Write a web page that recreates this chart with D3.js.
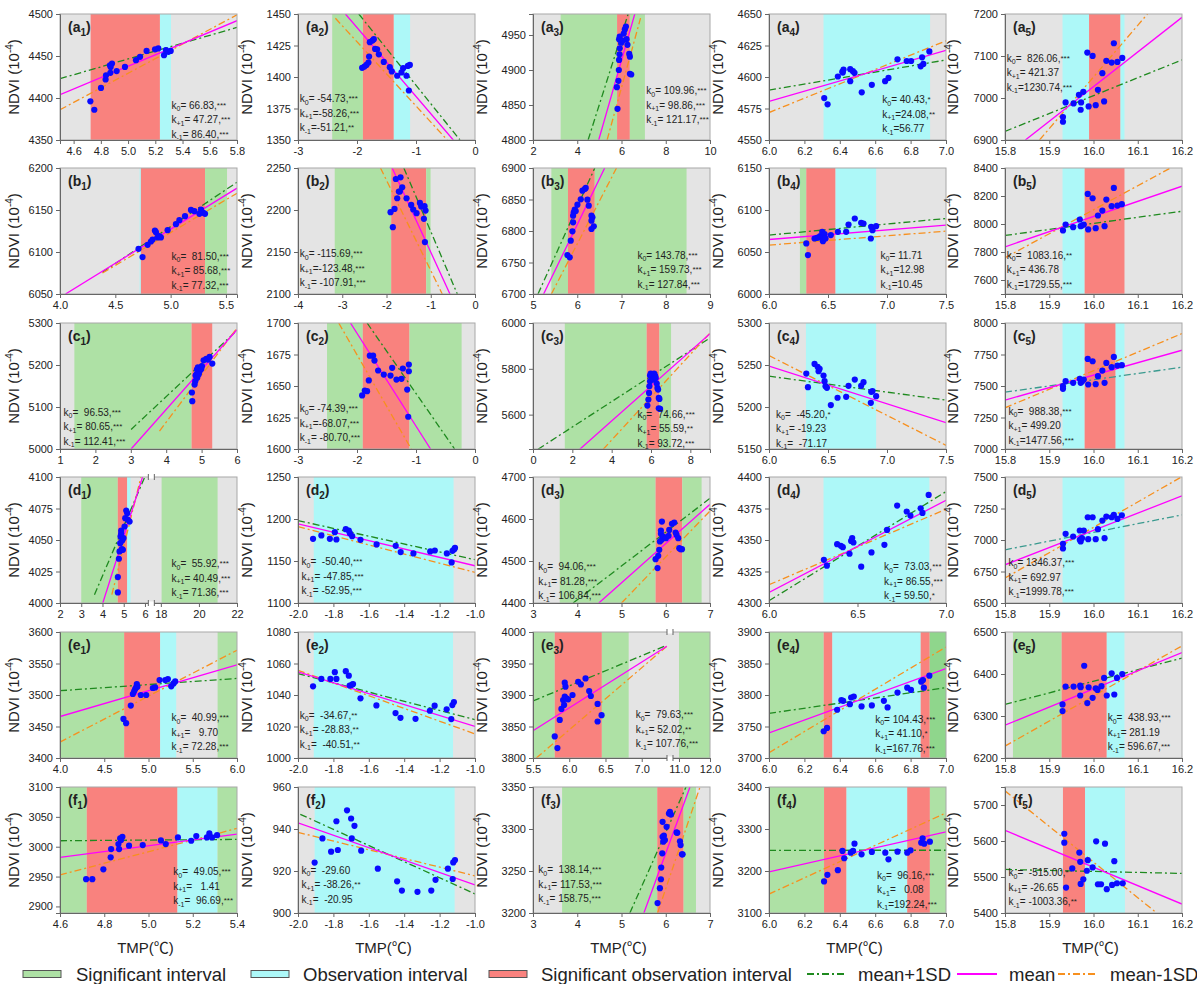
<!DOCTYPE html>
<html>
<head>
<meta charset="utf-8">
<script src="https://cdn.jsdelivr.net/npm/d3@7"></script>
<style>
body { margin: 0; background: #fff; }
text { font-family: "Liberation Sans", Arial, sans-serif; }
</style>
</head>
<body>
<svg id="chart" width="1197" height="984"></svg>
<script>
// panel order: rows a..f, columns 1..5
const panelIds = ['a1','a2','a3','a4','a5','b1','b2','b3','b4','b5','c1','c2','c3','c4','c5',
  'd1','d2','d3','d4','d5','e1','e2','e3','e4','e5','f1','f2','f3','f4','f5']

// axis domains (d1 and e3 have a broken x axis)
const xDomains = [
  [4.5,5.8],[-3,0],[2,10],[6,7],[15.8,16.2],
  [4,5.6],[-4,0],[5,9],[6,7.5],[15.8,16.2],
  [1,6],[-3,0],[0,9],[6,7.5],[15.8,16.2],
  [2,6.3,17.5,22],[-2,-1],[3,7],[6,7],[15.8,16.2],
  [4,6],[-2,-1],[5.5,7.39,10.71,12],[6,7],[15.8,16.2],
  [4.6,5.4],[-2,-1],[3,7],[6,7],[15.8,16.2]
]
const yDomains = [
  [4350,4500],[1350,1450],[4800,4980],[4550,4650],[6900,7200],
  [6050,6200],[2100,2250],[6700,6900],[6000,6150],[7500,8400],
  [5000,5300],[1600,1700],[5450,6000],[5150,5300],[7000,8000],
  [4000,4100],[1100,1250],[4400,4700],[4300,4400],[6500,7500],
  [3400,3600],[1000,1080],[3800,4000],[3700,3900],[6200,6500],
  [2889,3100],[900,960],[3200,3350],[3100,3400],[5400,5750]
]
const xTicks = [
  [4.6,4.8,5.0,5.2,5.4,5.6,5.8],[-3,-2,-1,0],[2,4,6,8,10],[6.0,6.2,6.4,6.6,6.8,7.0],[15.8,15.9,16.0,16.1,16.2],
  [4.0,4.5,5.0,5.5],[-4,-3,-2,-1,0],[5,6,7,8,9],[6.0,6.5,7.0,7.5],[15.8,15.9,16.0,16.1,16.2],
  [1,2,3,4,5,6],[-3,-2,-1,0],[0,2,4,6,8],[6.0,6.5,7.0,7.5],[15.8,15.9,16.0,16.1,16.2],
  [2,3,4,5,6,18,20,22],[-2.0,-1.8,-1.6,-1.4,-1.2,-1.0],[3,4,5,6,7],[6.0,6.5,7.0],[15.8,15.9,16.0,16.1,16.2],
  [4.0,4.5,5.0,5.5,6.0],[-2.0,-1.8,-1.6,-1.4,-1.2,-1.0],[5.5,6.0,6.5,7.0,11.0,12.0],[6.0,6.2,6.4,6.6,6.8,7.0],[15.8,15.9,16.0,16.1,16.2],
  [4.6,4.8,5.0,5.2,5.4],[-2.0,-1.8,-1.6,-1.4,-1.2,-1.0],[3,4,5,6,7],[6.0,6.2,6.4,6.6,6.8,7.0],[15.8,15.9,16.0,16.1,16.2]
]
const yTicks = [
  [4350,4400,4450,4500],[1350,1375,1400,1425,1450],[4800,4850,4900,4950],[4550,4575,4600,4625,4650],[6900,7000,7100,7200],
  [6050,6100,6150,6200],[2100,2150,2200,2250],[6700,6750,6800,6850,6900],[6000,6050,6100,6150],[7600,7800,8000,8200,8400],
  [5000,5100,5200,5300],[1600,1625,1650,1675,1700],[5600,5800,6000],[5150,5200,5250,5300],[7000,7250,7500,7750,8000],
  [4000,4025,4050,4075,4100],[1100,1150,1200,1250],[4400,4500,4600,4700],[4300,4325,4350,4375,4400],[6500,6750,7000,7250,7500],
  [3400,3450,3500,3550,3600],[1000,1020,1040,1060,1080],[3800,3850,3900,3950,4000],[3700,3750,3800,3850,3900],[6200,6300,6400,6500],
  [2900,2950,3000,3050,3100],[900,920,940,960],[3200,3250,3300,3350],[3100,3200,3300,3400],[5400,5500,5600,5700]
]

// shaded intervals: g = significant, c = observation, r = significant observation
const bands = [
  [[4.725,5.234,'r'],[5.234,5.315,'c']],
  [[-2.42,-1.90,'g'],[-1.90,-1.376,'r'],[-1.376,-1.10,'c']],
  [[3.25,5.80,'g'],[5.80,6.377,'r'],[6.377,7.057,'g']],
  [[6.308,6.91,'c']],
  [[15.93,15.99,'c'],[15.99,16.061,'r'],[16.061,16.07,'c']],
  [[4.72,4.731,'c'],[4.731,5.311,'r'],[5.311,5.51,'g']],
  [[-3.17,-1.894,'g'],[-1.894,-1.102,'r'],[-1.102,-1.004,'g']],
  [[5.415,5.79,'g'],[5.79,6.396,'r'],[6.396,8.47,'g']],
  [[6.262,6.316,'g'],[6.316,6.564,'r'],[6.564,6.908,'c']],
  [[15.93,15.98,'c'],[15.98,16.07,'r']],
  [[1.406,4.717,'g'],[4.717,5.30,'r']],
  [[-2.508,-1.902,'g'],[-1.902,-1.11,'r'],[-1.11,-0.227,'g']],
  [[1.616,5.78,'g'],[5.78,6.43,'r'],[6.43,7.02,'g']],
  [[6.313,6.908,'c']],
  [[15.93,15.98,'c'],[15.98,16.05,'r'],[16.05,16.07,'c']],
  [[3.0,4.72,'g'],[4.72,5.165,'r'],[5.165,5.32,'c'],[18.04,20.98,'g']],
  [[-1.911,-1.121,'c']],
  [[3.604,5.77,'g'],[5.77,6.374,'r'],[6.374,6.81,'g']],
  [[6.308,6.906,'c']],
  [[15.93,16.07,'c']],
  [[4.0,4.725,'g'],[4.725,5.132,'r'],[5.132,5.313,'c'],[5.781,6.0,'g']],
  [[-1.911,-1.124,'c']],
  [[5.5,5.80,'g'],[5.80,6.45,'r'],[6.45,6.82,'g'],[11.0,12.0,'g']],
  [[6.0,6.309,'g'],[6.309,6.358,'r'],[6.358,6.857,'c'],[6.857,6.908,'r'],[6.908,7.0,'G']],
  [[15.818,15.928,'g'],[15.928,16.03,'r'],[16.03,16.07,'c']],
  [[4.6,4.721,'g'],[4.721,5.131,'r'],[5.131,5.312,'c'],[5.312,5.4,'g']],
  [[-1.906,-1.115,'c']],
  [[3.657,5.808,'g'],[5.808,6.404,'r'],[6.404,6.683,'g']],
  [[6.0,6.311,'g'],[6.311,6.438,'r'],[6.438,6.781,'c'],[6.781,6.909,'r'],[6.909,7.0,'g']],
  [[15.931,15.981,'r'],[15.981,16.071,'c']]
]

// fitted lines [x1, y1, x2, y2]
const linePlus = [
  [4.5,4423,5.8,4484],[-1.97,1450,-0.255,1350],[4.49,4800,6.30,4980],[6,4589.6,7,4613.5],[15.8,6920.5,16.2,7090.7],
  [4.384,6076,5.6,6183],[-1.608,2250,-0.40,2100],[5.113,6700,6.396,6900],[6,6070.1,7.5,6089.9],[15.8,7918,16.2,8091],
  [3.009,5046.6,6,5282.6],[-1.829,1700,-0.346,1600],[0.255,5449,9,5934.6],[6,5236.7,7.5,5208.2],[15.8,7451,16.2,7649],
  [3.622,4006.6,6.016,4101],[-2,1198.2,-1,1151.5],[3.906,4400,7,4649.3],[6,4301.8,7,4388.4],[15.8,6922,16.2,7199],
  [4,3506.8,6,3526.3],[-2,1053.6,-1,1024.3],[5.5,3890.5,7.346,3978.9],[6,3770.8,7,3811.7],[15.8,6327.6,16.2,6437.8],
  [4.6,3010,5.4,3012.2],[-1.987,947,-1,909.1],[5.189,3200,6.457,3350],[6,3249.3,7,3249.4],[15.8,5521,16.2,5510]
]
const lineMean = [
  [4.5,4404,5.8,4492],[-2.196,1450,-0.368,1350],[4.97,4800,6.60,4980],[6,4580.7,7,4621.1],[15.846,6900,16.2,7192],
  [4.05,6050,5.6,6176],[-1.872,2250,-0.566,2100],[5.24,6700,6.62,6900],[6,6064.9,7.5,6081.9],[15.8,7837,16.2,8270],
  [3.009,5000,6,5284],[-2.111,1700,-0.753,1600],[2.38,5449,9,5953.5],[6,5248.6,7.5,5181.3],[15.8,7388,16.2,7784],
  [4.016,4000,5.906,4101],[-2,1194.2,-1,1144.3],[4.487,4400,7,4635.1],[6,4308.4,7,4381.5],[15.8,6803,16.2,7350],
  [4,3465.8,6,3547.9],[-2,1054.7,-1,1020],[5.5,3843.2,7.346,3977.4],[6,3739.9,7,3842],[15.8,6278,16.2,6451],
  [4.6,2982.2,5.4,3021.1],[-2,942.9,-1,913.4],[5.506,3200,6.547,3350],[6,3197.9,7,3293.4],[15.8,5629.4,16.2,5424.8]
]
const lineMinus = [
  [4.5,4386,5.8,4499],[-2.366,1446.6,-0.47,1350],[5.35,4800,6.86,4974],[6,4571.8,7,4628.7],[15.878,6900,16.122,7200],
  [4.384,6075,5.6,6170],[-2.136,2250,-0.74,2100],[5.415,6700,6.887,6900],[6,6058.2,7.5,6074.8],[15.8,7759,16.174,8400],
  [3.811,5042.7,6,5288],[-2.31,1700,-1.08,1600],[3.571,5449,9,5956.4],[6,5261.2,7.5,5154.4],[15.8,7327,16.2,7916],
  [4.441,4006.6,5.827,4101],[-2,1191,-1,1136.4],[5.0,4400,7,4619.2],[6,4314.5,7,4374.4],[15.8,6698,16.2,7503],
  [4,3425.3,6,3571.1],[-2,1055.7,-1,1015.3],[5.546,3800,7.346,3977.4],[6,3708.4,7,3876.2],[15.8,6228.3,16.2,6467],
  [4.6,2952.8,5.4,3030.6],[-2,938.4,-1,917.7],[5.815,3200,6.774,3350],[6,3145.1,7,3338.4],[15.8,5739.4,16.143,5400]
]

// slope annotations
const k0Text = [' 66.83,***',' -54.73,***',' 109.96,***',' 40.43,*','  826.06,***',
  '  81.50,***',' -115.69,***',' 143.78,***',' 11.71','  1083.16,**',
  '  96.53,***',' -74.39,***','  74.66,***','  -45.20,*','  988.38,***',
  '  55.92,***','  -50.40,***','  94.06,***','  73.03,***',' 1346.37,***',
  '  40.99,***','  -34.67,**','  79.63,***',' 104.43,***','  438.93,***',
  '  49.05,***','  -29.60','  138.14,***','  96.16,***','  -515.00,*']
const kPlusText = [' 47.27,***','-58.26,***',' 98.86,***','24.08,**',' 421.37',
  ' 85.68,***','-123.48,***',' 159.73,***','12.98',' 436.78',
  ' 80.65,***','-68.07,***',' 55.59,**',' -19.23',' 499.20',
  ' 40.49,***',' -47.85,***',' 81.28,***',' 86.55,***',' 692.97',
  '   9.70',' -28.83,**',' 52.02,**',' 41.10,*',' 281.19',
  '   1.41',' -38.26,**',' 117.53,***','   0.08',' -26.65']
const kMinusText = [' 86.40,***','-51.21,**',' 121.17,***','56.77','1230.74,***',
  ' 77.32,***',' -107.91,***',' 127.84,***','10.45','1729.55,***',
  ' 112.41,***',' -80.70,***',' 93.72,***','  -71.17','1477.56,***',
  ' 71.36,***',' -52.95,***',' 106.84,***',' 59.50,*','1999.78,***',
  ' 72.28,***','  -40.51,**',' 107.76,***','167.76,***',' 596.67,***',
  '  96.69,***','  -20.95',' 158.75,***','192.24,***',' -1003.36,**']

// observations [TMP, NDVI]
const ptsA1 = [[4.723,4396],[4.752,4386],[4.801,4412],[4.835,4422],[4.838,4427],[4.870,4430],[4.867,4439],[4.882,4441],[4.872,4437],[4.916,4432],[4.977,4437],[5.058,4445],[5.088,4449],[5.136,4456],[5.198,4458],[5.222,4459],[5.264,4451],[5.278,4457],[5.296,4455],[5.313,4456]]
const ptsA2 = [[-1.913,1407.3],[-1.874,1408.3],[-1.840,1409.6],[-1.806,1411.5],[-1.795,1416.2],[-1.783,1427.6],[-1.738,1428.9],[-1.715,1430],[-1.693,1422.3],[-1.659,1422],[-1.630,1418],[-1.546,1412],[-1.444,1407.8],[-1.410,1404.4],[-1.319,1401],[-1.246,1403.6],[-1.218,1407],[-1.161,1401],[-1.138,1408.8],[-1.104,1409.6],[-1.121,1389.3]]
const ptsA3 = [[5.82,4844.6],[5.79,4875.5],[5.86,4884.5],[5.88,4900],[5.89,4914.4],[5.91,4922.5],[5.92,4931],[5.89,4943.8],[5.92,4947.6],[5.99,4939],[6.10,4952],[6.15,4958],[6.20,4962],[6.23,4944],[6.27,4936],[6.35,4923],[6.38,4919],[6.38,4894.5],[6.44,4893.6],[6.05,4942]]
const ptsA4 = [[6.312,4583.3],[6.331,4578.3],[6.389,4600.4],[6.414,4604.1],[6.421,4605.9],[6.417,4603.5],[6.459,4606.2],[6.474,4604.6],[6.483,4603.3],[6.459,4596.7],[6.524,4587.8],[6.581,4593.8],[6.656,4596.7],[6.675,4599.3],[6.726,4614],[6.778,4612.7],[6.803,4612.7],[6.865,4615.6],[6.857,4608.5],[6.872,4610.4],[6.906,4620.3]]
const ptsA5 = [[15.931,6954.6],[15.931,6943.5],[15.937,6989.4],[15.955,6987],[15.971,6972],[15.972,6989.4],[15.967,7007.6],[15.977,7014.7],[15.989,6979.9],[15.986,7108.2],[15.998,7100.2],[16.005,6983],[16.020,7059],[16.010,7019.5],[16.024,6991.8],[16.029,7088.4],[16.041,7084.4],[16.046,7130.3],[16.054,7086],[16.065,7095.5]]
const ptsB1 = [[4.746,6093.9],[4.710,6103.8],[4.792,6108.6],[4.822,6112.5],[4.837,6114.9],[4.858,6125.6],[4.867,6123.6],[4.882,6117.3],[4.897,6118.9],[4.912,6117.3],[4.973,6126],[5.048,6133.1],[5.079,6137.9],[5.130,6142.6],[5.184,6150.1],[5.215,6148.6],[5.260,6145.4],[5.275,6150.5],[5.296,6146.6],[5.311,6145.4]]
const ptsB2 = [[-1.909,2197.4],[-1.857,2179.6],[-1.819,2201.3],[-1.789,2236.9],[-1.758,2214],[-1.721,2221.9],[-1.683,2238.9],[-1.645,2227],[-1.547,2214],[-1.442,2206],[-1.396,2200.6],[-1.321,2196.2],[-1.245,2208.4],[-1.215,2204.1],[-1.140,2204.5],[-1.117,2199.3],[-1.155,2189.5],[-1.132,2161.8],[-1.698,2222]]
const ptsB3 = [[5.777,6761.9],[5.830,6758.2],[5.853,6784.7],[5.891,6799.5],[5.906,6813.8],[5.906,6824.3],[5.921,6829.6],[5.943,6833.9],[5.966,6831.7],[6.004,6841.8],[6.079,6850.3],[6.117,6864],[6.170,6866.7],[6.192,6868.3],[6.230,6849.7],[6.260,6840.2],[6.321,6824.3],[6.343,6821.7],[6.321,6816.4],[6.321,6803.2],[6.374,6807.4]]
const ptsB4 = [[6.316,6060.2],[6.330,6046.3],[6.386,6066.1],[6.406,6066.9],[6.423,6067.3],[6.434,6068.9],[6.451,6074],[6.457,6062.9],[6.462,6068.1],[6.471,6071.3],[6.479,6066.1],[6.524,6070.1],[6.584,6074],[6.654,6074],[6.674,6082.7],[6.727,6089.9],[6.781,6084.7],[6.801,6083.9],[6.866,6080],[6.877,6076],[6.863,6066.1],[6.908,6080.7]]
const ptsB5 = [[15.931,7953.8],[15.937,7996.5],[15.954,7977.5],[15.969,8032.1],[15.971,7984.6],[15.974,7989.4],[15.978,7996.5],[15.988,7960.9],[15.987,8214.9],[15.998,8184],[16.005,7970.4],[16.010,8060.6],[16.020,8096.2],[16.025,7984.6],[16.029,8174.5],[16.041,8127],[16.046,8257.6],[16.054,8131.8],[16.064,8141.3]]
const ptsC1 = [[4.726,5134.5],[4.736,5113.9],[4.802,5153.5],[4.821,5161.4],[4.849,5177.3],[4.868,5189.2],[4.896,5194.7],[4.925,5181.2],[4.943,5185.2],[4.991,5190.7],[5.009,5197.1],[5.057,5211.3],[5.132,5214.5],[5.179,5212.9],[5.226,5219.2],[5.302,5203.4],[4.830,5174.9],[4.877,5169.4],[4.915,5177.3]]
const ptsC2 = [[-1.913,1642.5],[-1.868,1646.4],[-1.829,1645.9],[-1.800,1654.4],[-1.783,1674.1],[-1.727,1674.1],[-1.704,1670.2],[-1.642,1662.3],[-1.546,1659.1],[-1.432,1658.3],[-1.404,1664.4],[-1.331,1655.1],[-1.246,1655.7],[-1.223,1663.9],[-1.149,1647.2],[-1.121,1667],[-1.121,1661.7],[-1.132,1625.6]]
const ptsC3 = [[5.816,5639.5],[5.867,5665.7],[5.901,5694.8],[5.918,5723.8],[5.952,5745.6],[5.952,5770.3],[5.986,5779],[6.037,5760.2],[6.088,5774.7],[6.122,5752.9],[6.156,5779],[6.207,5770.3],[6.241,5760.2],[6.293,5735.5],[6.327,5716.6],[6.361,5709.3],[6.395,5672.9],[6.429,5668.6],[6.395,5627.9],[6.463,5625]]
const ptsC4 = [[6.316,5239.8],[6.330,5223.6],[6.386,5251.3],[6.412,5247.8],[6.420,5242.6],[6.429,5245.4],[6.462,5237.5],[6.471,5230.7],[6.479,5224.8],[6.491,5222.8],[6.524,5202.3],[6.581,5211],[6.654,5212.1],[6.674,5225.2],[6.727,5232.7],[6.781,5225.2],[6.801,5229.6],[6.866,5218.1],[6.877,5218.9],[6.863,5205],[6.908,5212.9]]
const ptsC5 = [[15.931,7498.7],[15.931,7477.6],[15.937,7538.3],[15.954,7525],[15.969,7556.7],[15.971,7525],[15.974,7535.6],[15.978,7551.5],[15.988,7511.9],[15.987,7715],[15.998,7696.6],[16.005,7514.5],[16.010,7577.8],[16.020,7622.7],[16.025,7525],[16.029,7683.4],[16.041,7649.1],[16.046,7730.9],[16.054,7662.3],[16.064,7664.9]]
const ptsD1 = [[4.724,4008.4],[4.724,4020.6],[4.772,4035.1],[4.803,4040.9],[4.835,4047.5],[4.850,4052.8],[4.882,4057.5],[4.929,4049.6],[4.961,4042.2],[4.992,4051.5],[5.039,4060.7],[5.071,4067.3],[5.118,4073.4],[5.165,4071.2],[5.197,4066],[5.276,4064.6],[4.882,4055.4],[4.913,4042.7]]
const ptsD2 = [[-1.915,1176.4],[-1.868,1180.4],[-1.820,1176.4],[-1.792,1184.3],[-1.783,1175.6],[-1.730,1187.9],[-1.713,1186.3],[-1.707,1183.1],[-1.694,1179.6],[-1.647,1175.2],[-1.556,1169.7],[-1.448,1168.1],[-1.420,1160.6],[-1.348,1159],[-1.253,1161.4],[-1.227,1162.5],[-1.159,1159],[-1.132,1148.3],[-1.127,1162.1],[-1.117,1164.1],[-1.113,1165.7]]
const ptsD3 = [[5.770,4504.4],[5.815,4483.1],[5.830,4512.4],[5.853,4526.6],[5.868,4546.4],[5.891,4564.6],[5.891,4572.5],[5.913,4593.9],[5.906,4550.4],[5.943,4558.3],[6.004,4554.3],[6.064,4559.9],[6.079,4574.1],[6.140,4588.4],[6.192,4591.5],[6.223,4567.8],[6.245,4562.2],[6.283,4554.3],[6.306,4530.6],[6.336,4528.2],[6.366,4528.2]]
const ptsD4 = [[6.310,4334.3],[6.327,4329.6],[6.385,4346.7],[6.406,4345.4],[6.417,4344.3],[6.455,4339.1],[6.464,4349.3],[6.470,4351.5],[6.477,4348],[6.521,4328.8],[6.579,4340.1],[6.652,4346.2],[6.667,4358],[6.724,4377.3],[6.778,4372.6],[6.799,4369.4],[6.857,4375.2],[6.867,4371.5],[6.902,4385.8]]
const ptsD5 = [[15.931,6969.7],[15.931,6932.7],[15.937,7048.8],[15.954,7027.7],[15.969,7075.2],[15.971,6988.1],[15.974,7014.5],[15.978,7075.2],[15.969,7001.3],[15.988,7006.6],[15.987,7180.7],[15.998,7180.7],[16.005,7006.6],[16.010,7085.8],[16.020,7154.4],[16.025,7014.5],[16.029,7186],[16.041,7180.7],[16.046,7199.2],[16.054,7167.5],[16.064,7196.6]]
const ptsE1 = [[4.717,3462.1],[4.747,3455.3],[4.800,3483.2],[4.823,3501.6],[4.838,3505.8],[4.849,3509.5],[4.860,3512.1],[4.868,3517.4],[4.875,3513.2],[4.913,3500],[4.974,3500],[5.049,3511.1],[5.075,3512.1],[5.125,3523.7],[5.189,3523.7],[5.219,3525.3],[5.257,3513.7],[5.283,3518.4],[5.302,3521.6]]
const ptsE2 = [[-1.915,1045.5],[-1.868,1050.2],[-1.817,1050.2],[-1.792,1054.5],[-1.783,1050.2],[-1.730,1055.1],[-1.713,1052.3],[-1.708,1046],[-1.694,1046.6],[-1.689,1047],[-1.647,1037.9],[-1.557,1033.4],[-1.449,1028.5],[-1.421,1025.5],[-1.336,1024.9],[-1.255,1030],[-1.228,1033.2],[-1.160,1030.9],[-1.134,1024.7],[-1.128,1033.6],[-1.119,1035.5]]
const ptsE3 = [[5.800,3834.2],[5.837,3815.8],[5.869,3860.5],[5.892,3877.9],[5.915,3892.1],[5.929,3884.2],[5.938,3897.4],[5.938,3919.5],[5.948,3913.2],[5.961,3894.7],[5.985,3893.2],[6.045,3900],[6.123,3921],[6.160,3916.8],[6.225,3926.3],[6.275,3906.3],[6.298,3898.4],[6.391,3885.8],[6.391,3857.9],[6.446,3867.9]]
const ptsE4 = [[6.309,3742.5],[6.328,3747.7],[6.385,3776.6],[6.409,3791.8],[6.419,3790.7],[6.457,3785.5],[6.464,3796],[6.479,3797.6],[6.523,3781.8],[6.581,3783.4],[6.649,3790.7],[6.670,3780.3],[6.726,3803.9],[6.781,3811.7],[6.802,3808.1],[6.860,3821.2],[6.870,3823.8],[6.875,3811.7],[6.906,3830.6]]
const ptsE5 = [[15.930,6327.6],[15.930,6311.8],[15.937,6370.1],[15.955,6370.1],[15.970,6372.4],[15.970,6348.8],[15.971,6368.5],[15.979,6419.7],[15.986,6330.7],[15.989,6368.5],[15.998,6343.3],[16.005,6366.1],[16.009,6362.2],[16.018,6370.9],[16.024,6390.6],[16.030,6348.8],[16.041,6401.6],[16.047,6351.2],[16.053,6390.6],[16.065,6400]]
const ptsF1 = [[4.718,2945.6],[4.746,2945.6],[4.796,2962.2],[4.829,2982.2],[4.831,2996.1],[4.864,3004.4],[4.867,2996.1],[4.872,3013.9],[4.882,3016.7],[4.876,3011.1],[4.912,3001.7],[4.974,3002.8],[5.056,3010.6],[5.078,3004.4],[5.133,3015.6],[5.193,3010],[5.216,3017.8],[5.264,3015.6],[5.275,3022.2],[5.287,3015.6],[5.310,3019.4]]
const ptsF2 = [[-1.906,924],[-1.862,935.5],[-1.813,929.2],[-1.783,943.7],[-1.775,930],[-1.723,948.9],[-1.700,945],[-1.696,935.5],[-1.681,941.5],[-1.643,929.7],[-1.549,921.1],[-1.440,915.1],[-1.413,910.7],[-1.325,910.1],[-1.247,910.7],[-1.223,915.8],[-1.153,921.1],[-1.126,916.2],[-1.123,924.1],[-1.113,925.2]]
const ptsF3 = [[5.815,3211.8],[5.868,3229.6],[5.891,3240.2],[5.898,3254.1],[5.921,3271],[5.928,3290.8],[5.943,3284.9],[5.958,3292],[5.981,3286.8],[6.019,3302.6],[6.072,3318.4],[6.094,3320.4],[6.117,3317.2],[6.245,3295.9],[6.260,3295.5],[6.321,3285.3],[6.336,3280.9],[6.366,3269.9],[6.381,3269.9],[5.928,3308.5]]
const ptsF4 = [[6.311,3175.1],[6.330,3190.9],[6.389,3201.9],[6.415,3247.7],[6.425,3230.3],[6.462,3243.7],[6.475,3247.7],[6.483,3265],[6.523,3239.8],[6.581,3245.3],[6.657,3243.7],[6.675,3227.9],[6.726,3246.1],[6.781,3243.7],[6.800,3249.3],[6.860,3267.4],[6.868,3277.7],[6.877,3265],[6.909,3269.8]]
const ptsF5 = [[15.934,5620.2],[15.934,5595.4],[15.938,5470.6],[15.952,5523.9],[15.968,5567.9],[15.970,5542.2],[15.971,5480.7],[15.977,5493.6],[15.987,5546.8],[15.985,5517.4],[15.998,5526.6],[16.006,5599.1],[16.010,5479.8],[16.017,5479.8],[16.026,5592.7],[16.030,5466.1],[16.042,5478],[16.047,5544],[16.053,5482.6],[16.066,5482.6]]

const pointSets = [ptsA1,ptsA2,ptsA3,ptsA4,ptsA5,ptsB1,ptsB2,ptsB3,ptsB4,ptsB5,
  ptsC1,ptsC2,ptsC3,ptsC4,ptsC5,ptsD1,ptsD2,ptsD3,ptsD4,ptsD5,
  ptsE1,ptsE2,ptsE3,ptsE4,ptsE5,ptsF1,ptsF2,ptsF3,ptsF4,ptsF5]

// ---- layout ----
const colLeft = [60, 298, 533, 769, 1005]
const rowTop = [14, 168, 323, 477, 632, 787]
const plotW = 177, plotH = 126
const yLabelOff = [-41, -46, -46, -46, -47]
const breakFrac = { d1: 0.516, e3: 0.774 }
// where the k text block starts, as fractions of the plot box
const kPos = [
  [0.63,0.75],[0.01,0.70],[0.64,0.635],[0.64,0.71],[0.01,0.38],
  [0.63,0.73],[0.01,0.71],[0.59,0.72],[0.63,0.72],[0.01,0.72],
  [0.02,0.735],[0.01,0.71],[0.59,0.75],[0.04,0.75],[0.02,0.73],
  [0.63,0.717],[0.02,0.70],[0.03,0.74],[0.65,0.74],[0.02,0.71],
  [0.63,0.71],[0.01,0.69],[0.58,0.685],[0.60,0.72],[0.58,0.71],
  [0.64,0.70],[0.02,0.69],[0.03,0.685],[0.61,0.73],[0.02,0.71]
]

const bandColor = { g: '#aee1a5', c: '#adf8f8', r: '#f9827e', G: '#8fd68c' }
const plusColor = '#1f8a1f', tealColor = '#3a9a8f'
const meanColor = '#ff00ff', minusColor = '#f7901e'
const dashDot = '7,3,2,3'

const svg = d3.select('#chart')
const fmtMinus = s => s.replace('\u2212', '-')

panelIds.forEach(function(id, i) {
  const row = Math.floor(i / 5), col = i % 5
  const g = svg.append('g').attr('transform', `translate(${colLeft[col]},${rowTop[row]})`)

  const xd = xDomains[i]
  let xr = [0, plotW]
  if (xd.length === 4) xr = [0, plotW * breakFrac[id], plotW * breakFrac[id], plotW]
  const x = d3.scaleLinear().domain(xd).range(xr)
  const y = d3.scaleLinear().domain(yDomains[i]).range([plotH, 0])

  // background and intervals
  g.append('rect').attr('width', plotW).attr('height', plotH).attr('fill', '#e4e4e4')
  g.selectAll('rect.band')
    .data(bands[i])
    .join('rect')
      .attr('class', 'band')
      .attr('x', d => x(d[0]))
      .attr('width', d => x(d[1]) - x(d[0]))
      .attr('height', plotH)
      .attr('fill', d => bandColor[d[2]])

  g.append('clipPath').attr('id', 'clip-' + id)
    .append('rect').attr('width', plotW).attr('height', plotH)

  const lines = [
    { d: linePlus[i], color: (id === 'c5' || id === 'd5') ? tealColor : plusColor, dash: dashDot },
    { d: lineMinus[i], color: minusColor, dash: dashDot },
    { d: lineMean[i], color: meanColor, dash: null }
  ]
  g.append('g').attr('clip-path', `url(#clip-${id})`)
    .selectAll('line')
    .data(lines)
    .join('line')
      .attr('x1', d => x(d.d[0])).attr('y1', d => y(d.d[1]))
      .attr('x2', d => x(d.d[2])).attr('y2', d => y(d.d[3]))
      .attr('stroke', d => d.color)
      .attr('stroke-width', 1.3)
      .attr('stroke-dasharray', d => d.dash)

  g.append('g').attr('clip-path', `url(#clip-${id})`)
    .selectAll('circle')
    .data(pointSets[i])
    .join('circle')
      .attr('cx', d => x(d[0]))
      .attr('cy', d => y(d[1]))
      .attr('r', 3.1)
      .attr('fill', '#0a0aff')

  // frame
  g.append('rect').attr('width', plotW).attr('height', plotH)
    .attr('fill', 'none').attr('stroke', '#a8a8a8').attr('stroke-width', 1)

  // axes
  const dec = xTicks[i].some(v => !Number.isInteger(v)) ? '.1f' : 'd'
  const fx = d3.format(dec)
  const xAxis = g.append('g').attr('transform', `translate(0,${plotH})`)
    .call(d3.axisBottom(x).tickValues(xTicks[i]).tickFormat(v => fmtMinus(fx(v))).tickSize(4).tickPadding(3))
  const yAxis = g.append('g')
    .call(d3.axisLeft(y).tickValues(yTicks[i]).tickFormat(d3.format('d')).tickSize(4).tickPadding(3))
  ;[xAxis, yAxis].forEach(function(a) {
    a.attr('font-family', null).attr('font-size', null)
    a.select('.domain').attr('stroke', '#666')
    a.selectAll('.tick line').attr('stroke', '#666')
    a.selectAll('.tick text').attr('font-size', 11).attr('fill', '#222')
  })

  // axis break marks
  if (xd.length === 4) {
    const bx = x(xd[1])
    ;[0, plotH].forEach(function(yy) {
      g.append('rect').attr('x', bx - 3).attr('y', yy - 1.5).attr('width', 6).attr('height', 3).attr('fill', '#fff')
      ;[-3, 3].forEach(function(o) {
        g.append('line').attr('x1', bx + o).attr('x2', bx + o)
          .attr('y1', yy - 3).attr('y2', yy + 3).attr('stroke', '#666')
      })
    })
  }

  // panel tag e.g. (a1)
  const tag = g.append('text').attr('x', 8).attr('y', 18)
    .attr('font-size', 14).attr('font-weight', 'bold').attr('fill', '#222')
  tag.append('tspan').text('(' + id[0])
  tag.append('tspan').attr('font-size', 10).attr('dy', 4).text(id[1])
  tag.append('tspan').attr('dy', -4).text(')')

  // y label
  const yl = g.append('text')
    .attr('transform', `translate(${yLabelOff[col]},${plotH / 2}) rotate(-90)`)
    .attr('text-anchor', 'middle').attr('font-size', 15).attr('fill', '#222')
  yl.append('tspan').text('NDVI (10')
  yl.append('tspan').attr('font-size', 10).attr('dy', -6).text('-4')
  yl.append('tspan').attr('dy', 6).text(')')

  // x label for the bottom row
  if (row === 5) {
    const xl = g.append('text').attr('x', plotW / 2 - 3).attr('y', plotH + 40)
      .attr('text-anchor', 'middle').attr('font-size', 15).attr('fill', '#222')
    xl.append('tspan').text('TMP(')
    xl.append('tspan').style('font-family', '"Noto Sans CJK SC", sans-serif').text('\u2103')
    xl.append('tspan').text(')')
  }

  // slope text
  const kx = kPos[i][0] * plotW, ky = kPos[i][1] * plotH
  const kRows = [['0', k0Text[i]], ['+1', kPlusText[i]], ['-1', kMinusText[i]]]
  kRows.forEach(function(r, j) {
    const t = g.append('text').attr('x', kx).attr('y', ky + j * 14.5)
      .attr('font-size', 10).attr('fill', '#222').style('white-space', 'pre')
    t.append('tspan').text('k')
    t.append('tspan').attr('font-size', 7).attr('dy', 2.5).text(r[0])
    const parts = r[1].split(',')
    t.append('tspan').attr('dy', -2.5).text('=' + parts[0] + (parts.length > 1 ? ',' : ''))
    if (parts.length > 1) t.append('tspan').attr('font-size', 8).attr('dy', -1).text(parts[1])
  })
})

// legend
const legend = svg.append('g').attr('transform', 'translate(0,974)')
const swatches = [
  { x: 23, tx: 76, color: bandColor.g, label: 'Significant interval' },
  { x: 251, tx: 303, color: bandColor.c, label: 'Observation interval' },
  { x: 489, tx: 541, color: bandColor.r, label: 'Significant observation interval' }
]
swatches.forEach(function(s) {
  legend.append('rect').attr('x', s.x).attr('y', -3.5).attr('width', 38).attr('height', 7)
    .attr('fill', s.color).attr('stroke', '#555').attr('stroke-width', 1)
  legend.append('text').attr('x', s.tx).attr('y', 6.5).attr('font-size', 18.5).attr('fill', '#222').text(s.label)
})
const lineKeys = [
  { x: 807, tx: 858, color: plusColor, dash: dashDot, label: 'mean+1SD' },
  { x: 957, tx: 1009, color: meanColor, dash: null, label: 'mean' },
  { x: 1058, tx: 1110, color: minusColor, dash: dashDot, label: 'mean-1SD' }
]
lineKeys.forEach(function(s) {
  legend.append('line').attr('x1', s.x).attr('x2', s.x + 40).attr('y1', 0).attr('y2', 0)
    .attr('stroke', s.color).attr('stroke-width', 1.8).attr('stroke-dasharray', s.dash)
  legend.append('text').attr('x', s.tx).attr('y', 6.5).attr('font-size', 18.5).attr('fill', '#222').text(s.label)
})
</script>
</body>
</html>
